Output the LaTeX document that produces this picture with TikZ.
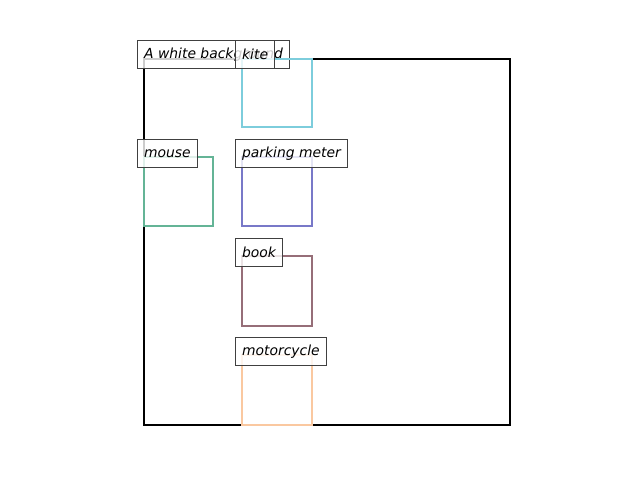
\documentclass[tikz,border=0pt]{standalone}
\usepackage{fontspec}
\setmainfont{DejaVu Sans}
\definecolor{kitec}{RGB}{125,205,220}
\definecolor{mousec}{RGB}{100,180,150}
\definecolor{meterc}{RGB}{120,120,200}
\definecolor{bookc}{RGB}{150,110,120}
\definecolor{motoc}{RGB}{250,200,160}
\tikzset{
    lbl/.style={draw=black!75, fill=white, fill opacity=0.8, text opacity=1, line width=0.7pt,
        anchor=north west, inner xsep=4.8pt, inner ysep=0pt, minimum height=20.2pt,
        font=\itshape\fontsize{10}{12}\selectfont},
    bx/.style={line width=1.9pt}
}
\begin{document}
\begin{tikzpicture}[x=0.72pt, y=-0.72pt]
    \useasboundingbox (0, 0) rectangle (640, 480);
    \draw[bx, black] (144, 59) rectangle (510, 425);
    \node[lbl] (bg) at (137, 40) {A white background};
    \draw[bx, kitec] (242, 59) rectangle (312, 127);
    \node[lbl] (kite) at (235, 40) {kite};
    \draw[bx, mousec] (144, 157) rectangle (213, 226);
    \node[lbl] (mouse) at (137, 139) {mouse};
    \draw[bx, meterc] (242, 157) rectangle (312, 226);
    \node[lbl] (meter) at (235, 139) {parking meter};
    \draw[bx, bookc] (242, 256) rectangle (312, 326);
    \node[lbl] (book) at (235, 238) {book};
    \draw[bx, motoc] (242, 355) rectangle (312, 425);
    \node[lbl] (moto) at (235, 337) {motorcycle};
\end{tikzpicture}
\end{document}
